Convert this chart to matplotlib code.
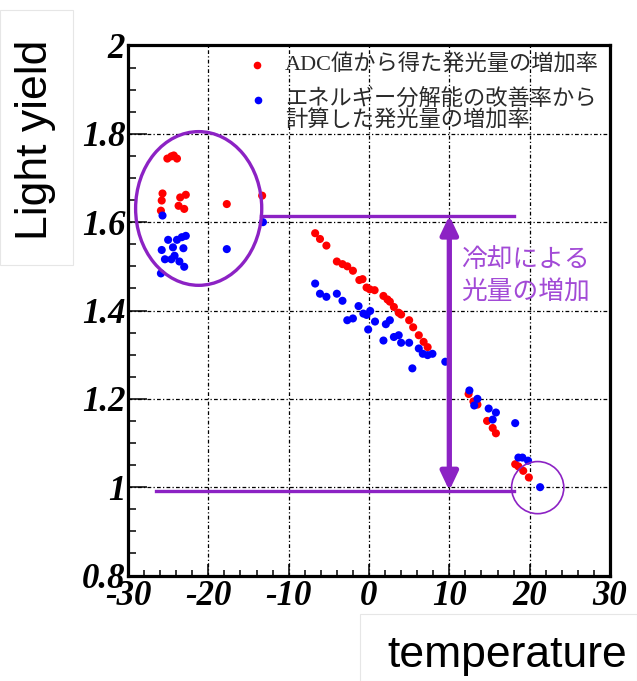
import matplotlib
matplotlib.use("Agg")
import matplotlib.pyplot as plt
import matplotlib.patches as mpatches
from matplotlib.ticker import MultipleLocator, FuncFormatter

plt.rcParams["axes.unicode_minus"] = False

# light yield ratio vs temperature, normalised at room temperature
adc_temp = [-25.1, -24.6, -24.3, -23.9, -25.7, -25.8, -25.9, -23.5, -22.8, -23.7, -23.0,
            -17.7, -13.3,
            -6.7, -6.1, -5.3, -4.0, -3.3, -2.7, -2.0, -1.2, -0.8, -0.3, 0.1, 0.7,
            1.8, 2.3, 2.6, 3.1, 3.7, 4.0, 5.0, 5.5, 6.2, 6.8, 7.3,
            12.4, 13.0, 13.5, 14.7, 15.4, 15.8, 18.2, 18.6, 19.2, 19.9]
adc_yield = [1.744, 1.749, 1.751, 1.744, 1.665, 1.649, 1.626, 1.656, 1.662, 1.637, 1.630,
             1.641, 1.660,
             1.575, 1.562, 1.547, 1.511, 1.505, 1.500, 1.490, 1.469, 1.471, 1.452, 1.448, 1.446,
             1.433, 1.425, 1.420, 1.408, 1.395, 1.391, 1.378, 1.362, 1.344, 1.329, 1.317,
             1.211, 1.194, 1.187, 1.150, 1.134, 1.122, 1.052, 1.047, 1.037, 1.022]

res_temp = [-25.7, -25.0, -23.9, -23.3, -22.8, -25.8, -24.4, -23.1, -25.4, -24.6, -24.2,
            -23.6, -23.0, -25.9, -17.7, -13.2,
            -6.7, -6.1, -5.3, -4.0, -3.3, -2.7, -2.0, -1.3, -0.7, -0.3, 0.15, -0.1, 0.75,
            1.8, 2.1, 2.6, 3.1, 3.7, 4.0, 5.0, 5.4, 6.2, 6.7, 7.3, 7.9, 9.5,
            12.5, 13.5, 13.1, 14.9, 15.8, 15.4, 18.2, 18.6, 19.1, 19.8, 21.3]
res_yield = [1.615, 1.560, 1.560, 1.566, 1.569, 1.537, 1.543, 1.541, 1.516, 1.516, 1.524,
             1.511, 1.499, 1.484, 1.539, 1.600,
             1.461, 1.438, 1.431, 1.438, 1.422, 1.378, 1.382, 1.410, 1.393, 1.390, 1.399, 1.357, 1.375,
             1.332, 1.369, 1.378, 1.340, 1.344, 1.327, 1.327, 1.269, 1.314, 1.302, 1.299, 1.302, 1.284,
             1.219, 1.200, 1.185, 1.178, 1.169, 1.153, 1.145, 1.067, 1.067, 1.060, 1.000]

adc_label = "ADC値から得た発光量の増加率"
res_label = ["エネルギー分解能の改善率から", "計算した発光量の増加率"]
note_label = ["冷却による", "光量の増加"]

cold_level = 1.615
room_level = 0.992
arrow_x = 10

LINE = "#8C22C4"
NOTE = "#A24AD6"
CJK = ["Liberation Serif", "Noto Sans CJK JP"]

fig = plt.figure(figsize=(6.37, 6.81), dpi=100)
ax = fig.add_axes([0.2009, 0.1549, 0.7567, 0.7783])

ax.set_xlim(-30, 30)
ax.set_ylim(0.8, 2.0)
ax.xaxis.set_major_locator(MultipleLocator(10))
ax.xaxis.set_minor_locator(MultipleLocator(2))
ax.yaxis.set_major_locator(MultipleLocator(0.2))
ax.yaxis.set_minor_locator(MultipleLocator(0.05))
ax.yaxis.set_major_formatter(FuncFormatter(lambda v, p: f"{round(v, 2):g}"))

ax.grid(True, which="major", color="black", lw=0.9, ls=(0, (3, 1.8, 1, 1.8)))
ax.set_axisbelow(True)
for s in ax.spines.values():
    s.set_linewidth(2.3)

tick_font = dict(family="Liberation Serif", weight="bold", style="italic", size=25)
ax.tick_params(axis="x", which="major", direction="in", length=9, width=1.1, pad=3)
ax.tick_params(axis="x", which="minor", direction="in", length=4, width=1.1)
ax.tick_params(axis="y", which="major", direction="in", length=14, width=1.1, pad=2)
ax.tick_params(axis="y", which="minor", direction="in", length=6, width=1.1)
for lab in ax.get_xticklabels() + ax.get_yticklabels():
    lab.set(**tick_font)

ax.scatter(adc_temp, adc_yield, s=34, color="#FF0000", edgecolors="none", zorder=3)
ax.scatter(res_temp, res_yield, s=34, color="#0000FF", edgecolors="none", zorder=4)

# cooled / room temperature levels and the gain between them
ax.plot([-13.4, 18.0], [cold_level, cold_level], color=LINE, lw=2.4, zorder=5)
ax.plot([-26.5, 18.0], [room_level, room_level], color=LINE, lw=2.4, zorder=5)
ax.add_patch(mpatches.FancyArrowPatch(
    (arrow_x, room_level), (arrow_x, cold_level),
    arrowstyle="<|-|>,head_length=0.55,head_width=0.26", mutation_scale=20,
    color=LINE, lw=3.8, shrinkA=0, shrinkB=0, zorder=5))
ax.add_patch(mpatches.Ellipse((-21.2, 1.631), 15.7, 0.348, fill=False,
                              ec=LINE, lw=2.4, zorder=5))
ax.add_patch(mpatches.Ellipse((21.0, 0.999), 6.5, 0.118, fill=False,
                              ec=LINE, lw=1.2, zorder=5))

ax.text(0.691, 0.595, note_label[0], transform=ax.transAxes, color=NOTE,
        family="Noto Sans CJK JP", fontsize=18.5, va="center", ha="left")
ax.text(0.691, 0.533, note_label[1], transform=ax.transAxes, color=NOTE,
        family="Noto Sans CJK JP", fontsize=18.5, va="center", ha="left")

# legend drawn by hand
ax.plot([0.267], [0.963], "o", ms=5.5, color="#FF0000", mec="none", transform=ax.transAxes)
ax.plot([0.270], [0.897], "o", ms=5.5, color="#0000FF", mec="none", transform=ax.transAxes)
ax.text(0.325, 0.963, adc_label, transform=ax.transAxes, family=CJK,
        fontsize=16, color="#2a2a2a", va="center", ha="left")
ax.text(0.325, 0.899, res_label[0], transform=ax.transAxes, family=CJK,
        fontsize=16, color="#2a2a2a", va="center", ha="left")
ax.text(0.325, 0.857, res_label[1], transform=ax.transAxes, family=CJK,
        fontsize=16, color="#2a2a2a", va="center", ha="left")

# axis titles in boxed panels
fig.patches.append(mpatches.Rectangle((0, 1 - 265 / 681), 73 / 637, 255 / 681,
                                      transform=fig.transFigure, fc="white",
                                      ec="#e6e6e6", lw=0.8, zorder=5))
fig.text(36 / 637, 1 - 140 / 681, "Light yield", rotation=90, family="Liberation Sans",
         fontsize=32, ha="center", va="center", zorder=6)
fig.patches.append(mpatches.Rectangle((360 / 637, 0), 277 / 637, 67 / 681,
                                      transform=fig.transFigure, fc="white",
                                      ec="#e6e6e6", lw=0.8, zorder=5))
fig.text(507 / 637, 1 - 655 / 681, "temperature", family="Liberation Sans",
         fontsize=32, ha="center", va="center", zorder=6)

fig.savefig("out.png", dpi=100)
